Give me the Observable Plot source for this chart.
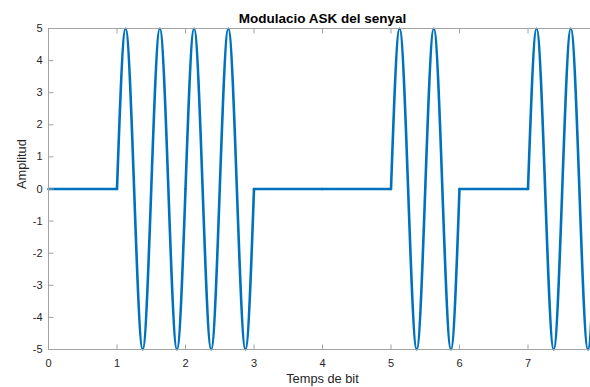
<!DOCTYPE html>
<html>
<head>
<meta charset="utf-8">
<script src="https://cdn.jsdelivr.net/npm/d3@7"></script>
<script src="https://cdn.jsdelivr.net/npm/@observablehq/plot@0.6"></script>
<style>
  html, body { margin: 0; padding: 0; background: #fff; overflow: hidden; width: 590px; height: 387px; }
  #chart { width: 597px; height: 387px; }
  #chart svg { display: block; max-width: none !important; width: 597px; height: 387px; }
</style>
</head>
<body>
<div id="chart"></div>
<script>
// ---- data ----
const bits = [0, 1, 1, 0, 0, 1, 0, 1];               // bit sequence, one per bit time
const carrierSamples = [0, 5, 0, -5, 0, 5, 0, -5, 0]; // carrier at each 1/8 of a "1" bit (zero, peak, zero, trough ...)
const xTicks = [0, 1, 2, 3, 4, 5, 6, 7];
const yTicks = [-5, -4, -3, -2, -1, 0, 1, 2, 3, 4, 5];
const titleText = "Modulacio ASK del senyal";
const xLabel = "Temps de bit";
const yLabel = "Amplitud";

// build the signal table from the bits (each bit its own segment)
const signal = [];
bits.forEach((b, k) => {
  if (b === 1) {
    carrierSamples.forEach((v, j) => signal.push({t: k + j / (carrierSamples.length - 1), v, seg: k}));
  } else {
    signal.push({t: k, v: 0, seg: k}, {t: k + 1, v: 0, seg: k});
  }
});

const axisGray = "#a3a3a3";
const textGray = "#262626";
const tick = (dx, dy) => ({draw(ctx) { ctx.moveTo(0, 0); ctx.lineTo(dx, dy); }});

const chart = Plot.plot({
  width: 597,
  height: 387,
  marginLeft: 48,
  marginRight: 1,
  marginTop: 28,
  marginBottom: 38,
  style: {fontFamily: "'Liberation Sans', Arial, Helvetica, sans-serif", fontSize: "11px", color: textGray, background: "#fff", overflow: "visible", maxWidth: "none"},
  x: {domain: [0, bits.length], axis: null},
  y: {domain: [-5, 5], axis: null},
  marks: [
    Plot.line(signal, {x: "t", y: "v", z: "seg", curve: "natural", stroke: "#0072BD", strokeWidth: 2.6}),
    Plot.frame({stroke: axisGray, strokeWidth: 1}),
    // inward tick marks (MATLAB style)
    Plot.dot(xTicks, {x: d => d, y: -5, symbol: tick(0, -5), stroke: axisGray, fill: "none", strokeWidth: 1}),
    Plot.dot(xTicks, {x: d => d, y: 5, symbol: tick(0, 5), stroke: axisGray, fill: "none", strokeWidth: 1}),
    Plot.dot(yTicks, {x: 0, y: d => d, symbol: tick(5, 0), stroke: axisGray, fill: "none", strokeWidth: 1}),
    Plot.dot(yTicks, {x: bits.length, y: d => d, symbol: tick(-5, 0), stroke: axisGray, fill: "none", strokeWidth: 1}),
    // tick labels
    Plot.text(xTicks, {x: d => d, y: -5, text: d => String(d), dy: 14, fontSize: 11, fill: textGray}),
    Plot.text(yTicks, {x: 0, y: d => d, text: d => String(d), dx: -6, textAnchor: "end", fontSize: 11, fill: textGray}),
    // title and axis labels
    Plot.text([titleText], {frameAnchor: "top", lineAnchor: "middle", text: d => d, dy: -10, fontWeight: "bold", fontSize: 13.5, fill: "#000"}),
    Plot.text([xLabel], {frameAnchor: "bottom", lineAnchor: "middle", text: d => d, dy: 29.5, fontSize: 12.8, fill: textGray}),
    Plot.text([yLabel], {frameAnchor: "left", lineAnchor: "middle", text: d => d, dx: -27, rotate: -90, fontSize: 12.8, fill: textGray})
  ]
});
document.getElementById("chart").appendChild(chart);
</script>
</body>
</html>
